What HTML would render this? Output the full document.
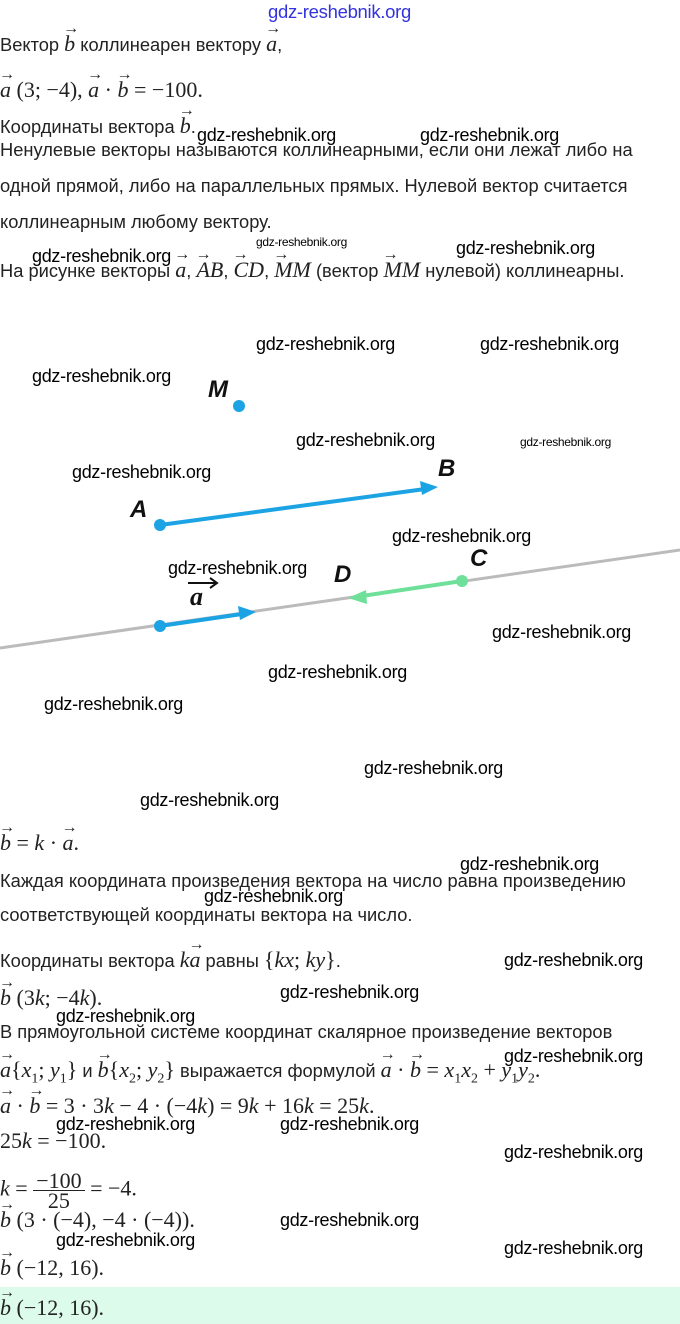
<!DOCTYPE html>
<html><head><meta charset="utf-8"><style>
body{margin:0;width:680px;height:1324px;position:relative;background:#fff;overflow:hidden;font-family:"Liberation Sans",sans-serif;color:#222}
.t{position:absolute;left:0;font-size:18.3px;white-space:nowrap;line-height:22px;transform:translateY(-11px)}
.m{font-family:"Liberation Serif",serif;font-size:22px}
.w{position:absolute;font-size:18px;color:#000;white-space:nowrap;line-height:20px;transform:translateY(-10px);font-family:"Liberation Sans",sans-serif;letter-spacing:-0.3px}
.v{position:relative;display:inline-block;font-style:italic;font-family:"Liberation Serif",serif}
.v::before{content:"→";position:absolute;left:-1px;top:-15px;font-size:16px;font-style:normal}
.i{font-style:italic}
sub{font-size:14px}
.band{position:absolute;left:0;top:1287px;width:680px;height:37px;background:#dcfbea}
</style></head><body>
<div class="w" style="left:268px;top:12px;color:#3333dd;font-size:18.5px">gdz-reshebnik.org</div>
<div class="t" style="top:44px">Вектор <span class="v m">b</span> коллинеарен вектору <span class="v m">a</span>,</div>
<div class="t m" style="top:90px"><span class="v">a</span> (3; −4), <span class="v">a</span> · <span class="v">b</span> = −100.</div>
<div class="t" style="top:126px">Координаты вектора <span class="v m">b</span>.</div>
<div class="t" style="top:150px">Ненулевые векторы называются коллинеарными, если они лежат либо на</div>
<div class="t" style="top:186px">одной прямой, либо на параллельных прямых. Нулевой вектор считается</div>
<div class="t" style="top:222px">коллинеарным любому вектору.</div>
<div class="t" style="top:270px">На рисунке векторы <span class="v m">a</span>, <span class="v m">AB</span>, <span class="v m">CD</span>, <span class="v m">MM</span> (вектор <span class="v m">MM</span> нулевой) коллинеарны.</div>
<div class="w" style="left:197px;top:135px">gdz-reshebnik.org</div>
<div class="w" style="left:420px;top:135px">gdz-reshebnik.org</div>
<div class="w" style="left:32px;top:256px">gdz-reshebnik.org</div>
<div class="w" style="left:256px;top:242px;font-size:12px">gdz-reshebnik.org</div>
<div class="w" style="left:456px;top:248px">gdz-reshebnik.org</div>

<svg style="position:absolute;left:0;top:0" width="680" height="810">
<line x1="0" y1="648" x2="680" y2="550" stroke="#bbb" stroke-width="3"/>
<line x1="160" y1="525" x2="425" y2="489" stroke="#1ca3e3" stroke-width="4"/>
<polygon points="438,487 420,481 422,495" fill="#1ca3e3"/>
<circle cx="160" cy="525" r="6" fill="#1ca3e3"/>
<line x1="160" y1="626" x2="242" y2="614" stroke="#1ca3e3" stroke-width="4"/>
<polygon points="256,612 238,606 240,620" fill="#1ca3e3"/>
<circle cx="160" cy="626" r="6" fill="#1ca3e3"/>
<line x1="462" y1="581" x2="362" y2="596" stroke="#6fe09a" stroke-width="4"/>
<polygon points="348,598 366,590 367,604" fill="#6fe09a"/>
<circle cx="462" cy="581" r="6" fill="#6fe09a"/>
<circle cx="239" cy="406" r="6" fill="#1ca3e3"/>
<g font-family="Liberation Sans,sans-serif" font-style="italic" font-weight="bold" font-size="24" fill="#111">
<text x="208" y="397">M</text><text x="438" y="476">B</text><text x="130" y="517">A</text>
<text x="334" y="582">D</text><text x="470" y="566">C</text></g>
<text x="190" y="605" font-family="Liberation Serif,serif" font-style="italic" font-weight="bold" font-size="26" fill="#111">a</text>
<path d="M188 583 H216 M210 578 L217 583 L210 588" stroke="#111" stroke-width="2" fill="none"/>
</svg>
<div class="w" style="left:256px;top:344px">gdz-reshebnik.org</div>
<div class="w" style="left:480px;top:344px">gdz-reshebnik.org</div>
<div class="w" style="left:32px;top:376px">gdz-reshebnik.org</div>
<div class="w" style="left:296px;top:440px">gdz-reshebnik.org</div>
<div class="w" style="left:520px;top:442px;font-size:12px">gdz-reshebnik.org</div>
<div class="w" style="left:72px;top:472px">gdz-reshebnik.org</div>
<div class="w" style="left:392px;top:536px">gdz-reshebnik.org</div>
<div class="w" style="left:168px;top:568px">gdz-reshebnik.org</div>
<div class="w" style="left:492px;top:632px">gdz-reshebnik.org</div>
<div class="w" style="left:268px;top:672px">gdz-reshebnik.org</div>
<div class="w" style="left:44px;top:704px">gdz-reshebnik.org</div>
<div class="w" style="left:364px;top:768px">gdz-reshebnik.org</div>
<div class="w" style="left:140px;top:800px">gdz-reshebnik.org</div>

<div class="band"></div>
<div class="t m" style="top:843px"><span class="v">b</span> = <span class="i">k</span> · <span class="v">a</span>.</div>
<div class="t" style="top:881px">Каждая координата произведения вектора на число равна произведению</div>
<div class="t" style="top:915px">соответствующей координаты вектора на число.</div>
<div class="t" style="top:960px">Координаты вектора <span class="m i">k</span><span class="v m">a</span> равны <span class="m">{<i>kx</i>; <i>ky</i>}</span>.</div>
<div class="t m" style="top:998px"><span class="v">b</span> (3<i>k</i>; −4<i>k</i>).</div>
<div class="t" style="top:1032px">В прямоугольной системе координат скалярное произведение векторов</div>
<div class="t" style="top:1070px"><span class="m"><span class="v">a</span>{<i>x</i><sub>1</sub>; <i>y</i><sub>1</sub>}</span> и <span class="m"><span class="v">b</span>{<i>x</i><sub>2</sub>; <i>y</i><sub>2</sub>}</span> выражается формулой <span class="m"><span class="v">a</span> · <span class="v">b</span> = <i>x</i><sub>1</sub><i>x</i><sub>2</sub> + <i>y</i><sub>1</sub><i>y</i><sub>2</sub>.</span></div>
<div class="t m" style="top:1106px"><span class="v">a</span> · <span class="v">b</span> = 3 · 3<i>k</i> − 4 · (−4<i>k</i>) = 9<i>k</i> + 16<i>k</i> = 25<i>k</i>.</div>
<div class="t m" style="top:1141px">25<i>k</i> = −100.</div>
<div class="t m" style="top:1182px;line-height:18px"><i>k</i> = <span style="display:inline-block;vertical-align:middle;text-align:center;line-height:19px"><span style="display:block;border-bottom:1px solid #222;padding:0 3px">−100</span><span style="display:block">25</span></span> = −4.</div>
<div class="t m" style="top:1220px"><span class="v">b</span> (3 · (−4), −4 · (−4)).</div>
<div class="t m" style="top:1268px"><span class="v">b</span> (−12, 16).</div>
<div class="t m" style="top:1308px"><span class="v">b</span> (−12, 16).</div>
<div class="w" style="left:460px;top:864px">gdz-reshebnik.org</div>
<div class="w" style="left:204px;top:896px">gdz-reshebnik.org</div>
<div class="w" style="left:504px;top:960px">gdz-reshebnik.org</div>
<div class="w" style="left:280px;top:992px">gdz-reshebnik.org</div>
<div class="w" style="left:56px;top:1016px">gdz-reshebnik.org</div>
<div class="w" style="left:504px;top:1056px">gdz-reshebnik.org</div>
<div class="w" style="left:56px;top:1124px">gdz-reshebnik.org</div>
<div class="w" style="left:280px;top:1124px">gdz-reshebnik.org</div>
<div class="w" style="left:504px;top:1152px">gdz-reshebnik.org</div>
<div class="w" style="left:280px;top:1220px">gdz-reshebnik.org</div>
<div class="w" style="left:56px;top:1240px">gdz-reshebnik.org</div>
<div class="w" style="left:504px;top:1248px">gdz-reshebnik.org</div>
</body></html>
